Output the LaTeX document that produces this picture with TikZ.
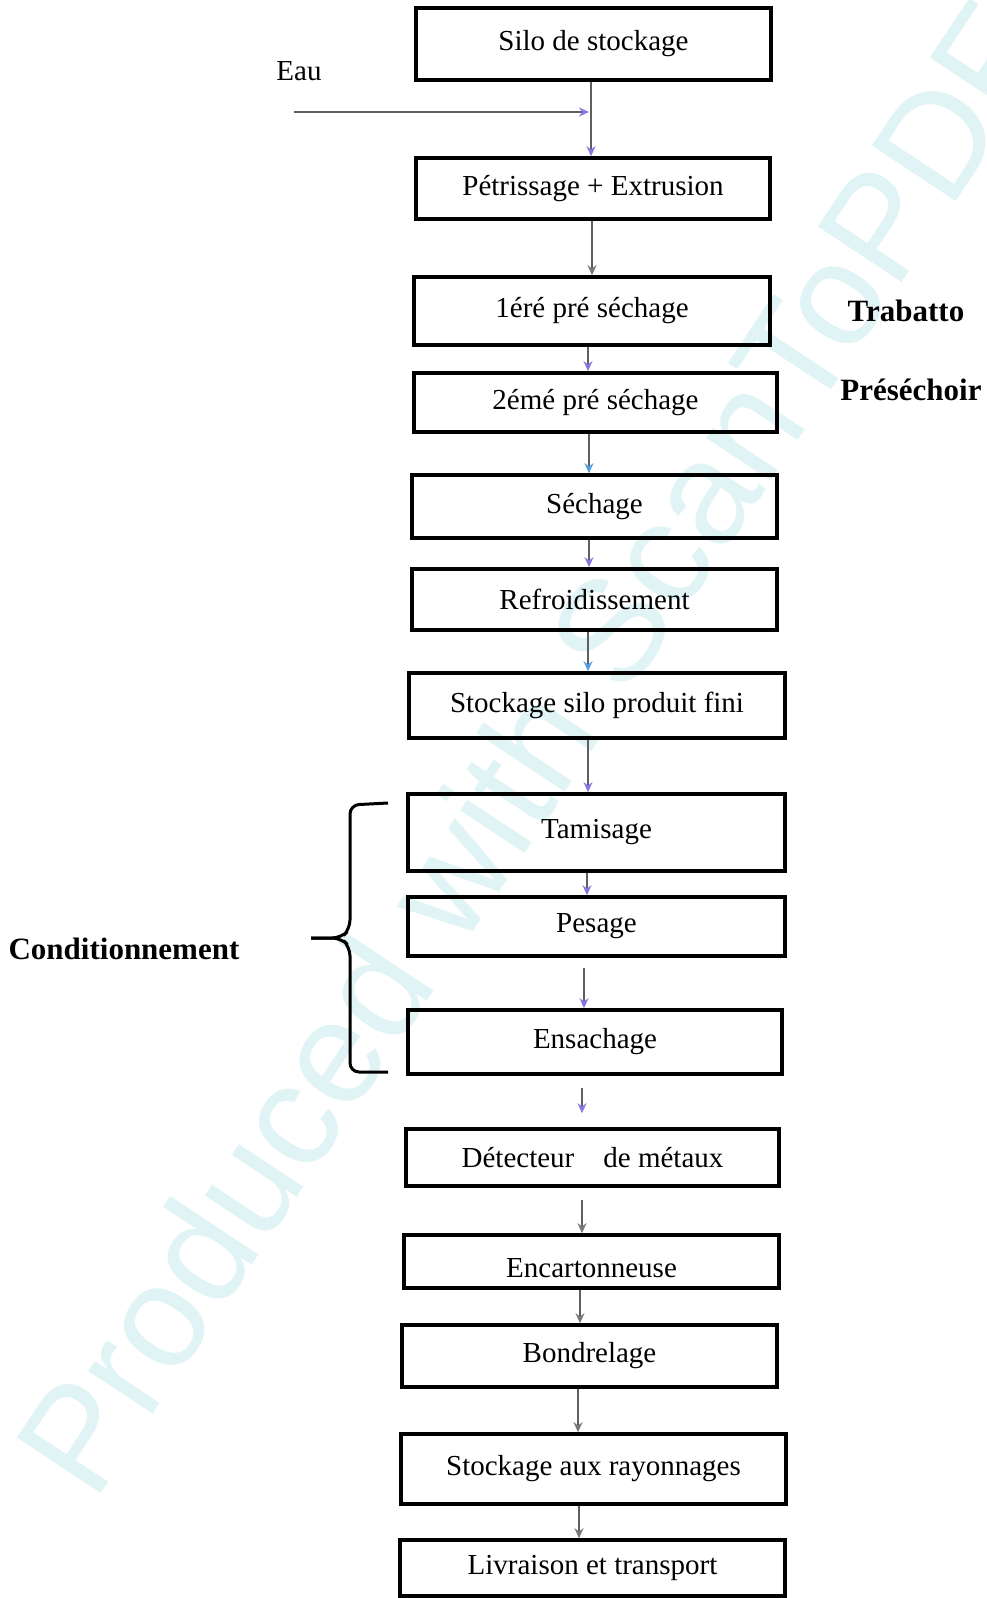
\documentclass[tikz,border=0pt]{standalone}
\usepackage{fontspec}
\setmainfont{Liberation Serif}
\newfontfamily\wmfont{Liberation Sans}
\usetikzlibrary{arrows.meta}
\definecolor{wmcyan}{RGB}{224,244,246}
\definecolor{lnk}{RGB}{95,95,95}
\definecolor{tpurple}{RGB}{135,120,225}
\definecolor{tblue}{RGB}{80,160,225}
\definecolor{tgray}{RGB}{120,120,120}
\tikzset{
  box/.style={draw=black, line width=3.6pt, inner sep=0pt, font=\fontsize{29}{34}\selectfont},
  lbl/.style={inner sep=0pt, font=\fontsize{29}{34}\selectfont},
  blbl/.style={inner sep=0pt, font=\fontsize{31}{36}\selectfont\bfseries},
  lnkP/.style={draw=lnk, line width=1.8pt, -{Stealth[length=10pt,width=9pt,color=tpurple]}},
  lnkB/.style={draw=lnk, line width=1.8pt, -{Stealth[length=10pt,width=9pt,color=tblue]}},
  lnkG/.style={draw=lnk, line width=1.8pt, -{Stealth[length=10pt,width=9pt,color=tgray]}},
  bracestyle/.style={draw=black, line width=3pt, rounded corners=9pt},
  wm/.style={inner sep=0pt, text=wmcyan, font=\wmfont\fontsize{146}{150}\selectfont}
}
\begin{document}
\begin{tikzpicture}[x=1pt,y=-1pt]
\useasboundingbox (0,0) rectangle (987,1598);
\fill[white] (0,0) rectangle (987,1598);
% watermark
\node[wm, rotate=56.5, anchor=base west] (wmark) at (94,1504) {Produced with ScanToPDF};
% boxes
\node[box, minimum width=355pt, minimum height=72pt] (silo) at (593.5,44) {Silo de stockage};
\node[box, minimum width=354pt, minimum height=61pt] (pet) at (593,188.5) {Pétrissage + Extrusion};
\node[box, minimum width=356pt, minimum height=68pt] (pre1) at (592,311) {1éré pré séchage};
\node[box, minimum width=363pt, minimum height=59pt] (pre2) at (595.5,402.5) {2émé pré séchage};
\node[box, minimum width=365pt, minimum height=63pt] (sech) at (594.5,506.5) {Séchage};
\node[box, minimum width=365pt, minimum height=61pt] (refr) at (594.5,599.5) {Refroidissement};
\node[box, minimum width=376pt, minimum height=65pt] (stock) at (597,705.5) {Stockage silo produit fini};
\node[box, minimum width=377pt, minimum height=77pt] (tam) at (596.5,832.5) {Tamisage};
\node[box, minimum width=377pt, minimum height=59pt] (pes) at (596.5,926.5) {Pesage};
\node[box, minimum width=374pt, minimum height=64pt] (ens) at (595,1042) {Ensachage};
\node[box, minimum width=373pt, minimum height=57pt] (det) at (592.5,1157.5) {Détecteur\quad de métaux};
\node[box, minimum width=375pt, minimum height=53pt] (enc) at (591.5,1261.5) {\smash{\raisebox{-16pt}{Encartonneuse}}};
\node[box, minimum width=375pt, minimum height=62pt] (bond) at (589.5,1356) {Bondrelage};
\node[box, minimum width=385pt, minimum height=70pt] (ray) at (593.5,1469) {Stockage aux rayonnages};
\node[box, minimum width=385pt, minimum height=56pt] (liv) at (592.5,1568) {Livraison et transport};
% side labels
\node[lbl] (eau) at (299,71) {Eau};
\node[blbl] (trab) at (906,311) {Trabatto};
\node[blbl] (presech) at (911,390) {Préséchoir};
\node[blbl] (cond) at (124,949) {Conditionnement};
% water inlet
\coordinate (eauS) at (294,112);
\coordinate (join) at (589,112);
\draw[lnkP] (eauS) -- (join);
% connectors
\draw[lnkP] (silo.south -| 591,0) -- (pet.north -| 591,0);
\draw[lnkG] (pet.south -| 592,0) -- (pre1.north -| 592,0);
\draw[lnkP] (pre1.south -| 588,0) -- (pre2.north -| 588,0);
\draw[lnkB] (pre2.south -| 589,0) -- (sech.north -| 589,0);
\draw[lnkP] (sech.south -| 589,0) -- (refr.north -| 589,0);
\draw[lnkB] (refr.south -| 588,0) -- (stock.north -| 588,0);
\draw[lnkP] (stock.south -| 588,0) -- (tam.north -| 588,0);
\draw[lnkP] (tam.south -| 587,0) -- (pes.north -| 587,0);
\draw[lnkP, shorten <=10pt] (pes.south -| 584,0) -- (ens.north -| 584,0);
\draw[lnkP, shorten <=12pt, shorten >=14pt] (ens.south -| 582,0) -- (det.north -| 582,0);
\draw[lnkG, shorten <=12pt] (det.south -| 582,0) -- (enc.north -| 582,0);
\draw[lnkG] (enc.south -| 580,0) -- (bond.north -| 580,0);
\draw[lnkG] (bond.south -| 578,0) -- (ray.north -| 578,0);
\draw[lnkG] (ray.south -| 579,0) -- (liv.north -| 579,0);
% brace
\coordinate (bt) at (388,803);
\coordinate (bb) at (388,1072);
\draw[bracestyle] (bt) -- (350,805) -- (350,929) -- (341,938) -- (311,938);
\draw[bracestyle] (311,938) -- (341,938) -- (350,947) -- (350,1072) -- (bb);
\end{tikzpicture}
\end{document}
